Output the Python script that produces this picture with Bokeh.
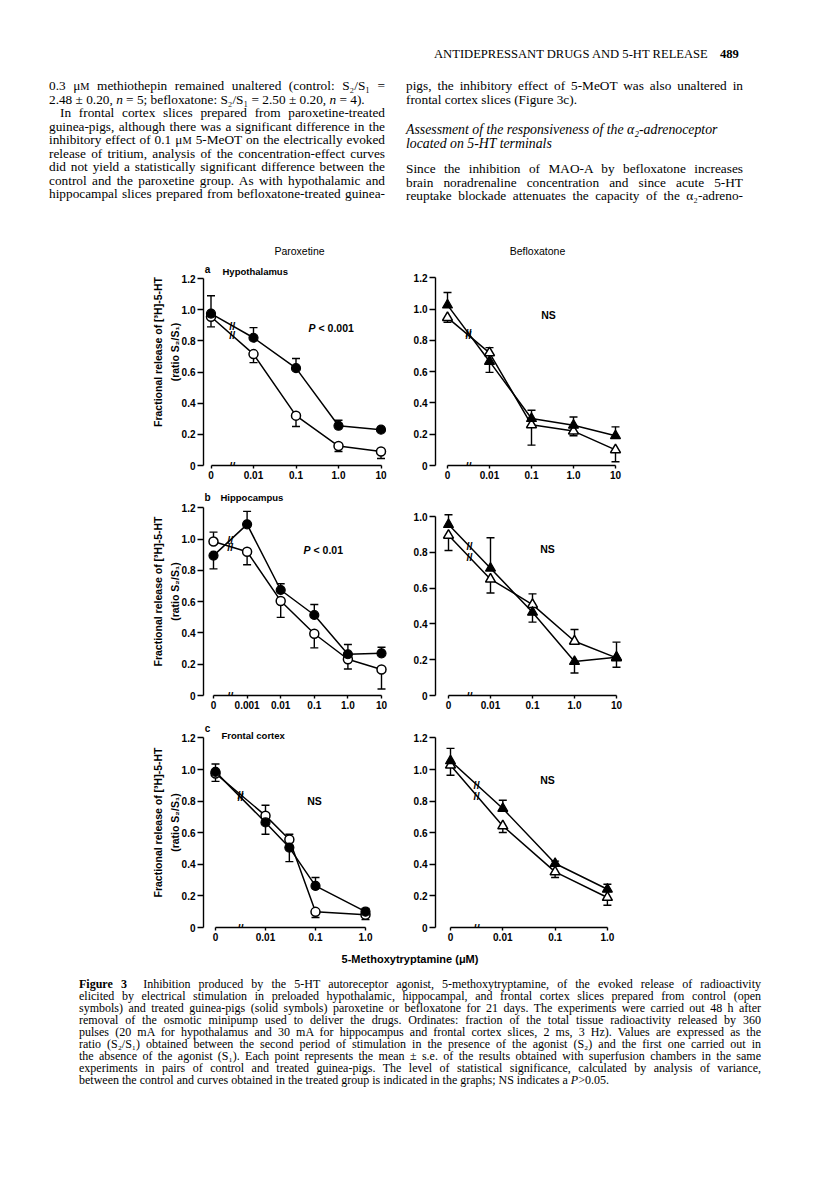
import math
from bokeh.plotting import figure
from bokeh.models import Range1d, FixedTicker, Label, Div
from bokeh.layouts import column, row
from bokeh.core.properties import value
from bokeh.embed import file_html
from bokeh.resources import INLINE

SANS = "Liberation Sans"
SERIF = "Liberation Serif"

# ------------------------------------------------------------------ data
# concentrations of 5-methoxytryptamine (uM) and x tick labels
hyp_conc = [0, 0.01, 0.1, 1.0, 10]
hyp_tick_conc = [0, 0.01, 0.1, 1.0, 10]
hyp_tick_labels = ["0", "0.01", "0.1", "1.0", "10"]

hip_par_conc = [0, 0.001, 0.01, 0.1, 1.0, 10]
hip_par_tick_conc = [0, 0.001, 0.01, 0.1, 1.0, 10]
hip_par_tick_labels = ["0", "0.001", "0.01", "0.1", "1.0", "10"]

hip_bef_conc = [0, 0.01, 0.1, 1.0, 10]
hip_bef_tick_conc = [0, 0.01, 0.1, 1.0, 10]
hip_bef_tick_labels = ["0", "0.01", "0.1", "1.0", "10"]

fc_par_conc = [0, 0.01, 0.03, 0.1, 1.0]
fc_bef_conc = [0, 0.01, 0.1, 1.0]
fc_tick_conc = [0, 0.01, 0.1, 1.0]
fc_tick_labels = ["0", "0.01", "0.1", "1.0"]

y_ticks_12 = [0, 0.2, 0.4, 0.6, 0.8, 1.0, 1.2]
y_labels_12 = ["0", "0.2", "0.4", "0.6", "0.8", "1.0", "1.2"]
y_ticks_10 = [0, 0.2, 0.4, 0.6, 0.8, 1.0]
y_labels_10 = ["0", "0.2", "0.4", "0.6", "0.8", "1.0"]

# mean S2/S1 values; signed s.e. (sign = side on which the visible bar is drawn)
hyp_par_ctrl = [0.955, 0.715, 0.32, 0.125, 0.09]
hyp_par_ctrl_se = [-0.065, -0.055, -0.07, -0.035, -0.045]
hyp_par_trt = [0.975, 0.82, 0.625, 0.255, 0.23]
hyp_par_trt_se = [0.115, 0.065, 0.062, 0.035, 0.015]

hyp_bef_ctrl = [0.945, 0.72, 0.26, 0.22, 0.10]
hyp_bef_ctrl_se = [-0.03, 0.033, -0.13, -0.03, -0.076]
hyp_bef_trt = [1.025, 0.665, 0.30, 0.257, 0.19]
hyp_bef_trt_se = [0.08, -0.07, 0.053, 0.053, 0.057]

hip_par_ctrl = [0.985, 0.92, 0.605, 0.395, 0.232, 0.166]
hip_par_ctrl_se = [0.06, -0.083, -0.105, -0.09, -0.062, -0.124]
hip_par_trt = [0.895, 1.095, 0.675, 0.515, 0.264, 0.27]
hip_par_trt_se = [-0.085, 0.083, 0.04, 0.067, 0.062, 0.039]

hip_bef_ctrl = [0.895, 0.65, 0.508, 0.303, 0.21]
hip_bef_ctrl_se = [-0.085, -0.077, 0.06, 0.066, -0.052]
hip_bef_trt = [0.955, 0.711, 0.465, 0.19, 0.214]
hip_bef_trt_se = [0.055, 0.17, -0.055, -0.064, 0.084]

fc_par_ctrl = [0.975, 0.708, 0.557, 0.099, 0.08]
fc_par_ctrl_se = [-0.05, 0.066, 0.033, -0.036, -0.03]
fc_par_trt = [0.985, 0.665, 0.506, 0.263, 0.10]
fc_par_trt_se = [0.05, -0.075, -0.089, 0.053, 0.02]

fc_bef_ctrl = [1.027, 0.643, 0.352, 0.19]
fc_bef_ctrl_se = [-0.063, -0.042, -0.036, -0.049]
fc_bef_trt = [1.055, 0.753, 0.405, 0.242]
fc_bef_trt_se = [0.079, 0.052, 0.015, 0.032]

# ------------------------------------------------------------------ layout (window px)
LEFT_FIG, RIGHT_FIG = (8, 404), (404, 808)
LEFT_FRAME, RIGHT_FRAME = (211, 400), (443, 640)
ROW_A, ROW_B, ROW_C = (236, 485), (485, 715), (715, 945)

YLABEL = "Fractional release of [\u00b3H]-5-HT\n(ratio S\u2082/S\u2081)"


def make_panel(fig_x, frame_x, rows, pos0, decade, y0, unit,
               conc, tick_conc, tick_labels, yticks, ylabels,
               ctrl, ctrl_se, trt, trt_se, marker, texts, ylabel=None):
    first = min(c for c in conc if c > 0)
    zero_x = math.log10(first) - 1

    def xp(c):
        return math.log10(c) if c > 0 else zero_x

    fl, fr = frame_x
    x0 = zero_x - (pos0 - fl) / decade
    x1 = x0 + (fr - fl) / decade
    top, bottom = rows
    y1 = (y0 - top) / unit

    p = figure(width=fig_x[1] - fig_x[0], height=bottom - top,
               x_range=Range1d(x0, x1), y_range=Range1d(0, y1),
               output_backend="svg", toolbar_location=None,
               min_border_left=fl - fig_x[0], min_border_right=fig_x[1] - fr,
               min_border_top=0, min_border_bottom=bottom - y0)
    p.outline_line_color = None
    p.grid.visible = False
    p.background_fill_color = "white"
    p.border_fill_color = "white"

    xs = [xp(c) for c in conc]
    xax = p.xaxis[0]
    xax.ticker = FixedTicker(ticks=[xp(c) for c in tick_conc])
    xax.major_label_overrides = {xp(c): lab for c, lab in zip(tick_conc, tick_labels)}
    xax.bounds = (xp(tick_conc[0]), xp(tick_conc[-1]))
    xax.major_tick_out = 3
    xax.major_tick_in = 0
    xax.minor_tick_line_color = None
    xax.major_label_standoff = 2

    yax = p.yaxis[0]
    yax.ticker = FixedTicker(ticks=yticks)
    yax.major_label_overrides = {t: lab for t, lab in zip(yticks, ylabels)}
    yax.bounds = (yticks[0], yticks[-1])
    yax.major_tick_out = 6
    yax.major_tick_in = 0
    yax.minor_tick_line_color = None
    yax.major_label_standoff = 2

    for ax in (xax, yax):
        ax.axis_line_width = 1.4
        ax.axis_line_color = "black"
        ax.major_tick_line_width = 1.4
        ax.major_tick_line_color = "black"
        ax.major_label_text_font = SANS
        ax.major_label_text_font_size = "10px"
        ax.major_label_text_font_style = "bold"
        ax.major_label_text_color = "black"

    if ylabel:
        yax.axis_label = ylabel
        yax.axis_label_text_font = SANS
        yax.axis_label_text_font_size = "10.5px"
        yax.axis_label_text_font_style = "bold"
        yax.axis_label_text_color = "black"
        yax.axis_label_standoff = -2
        yax.axis_label_text_line_height = 1.4

    # error bars (stem + cap)
    for ys, se in ((ctrl, ctrl_se), (trt, trt_se)):
        ends = [y + e for y, e in zip(ys, se)]
        p.segment(x0=xs, y0=ys, x1=xs, y1=ends, line_color="black", line_width=1.4)
        p.scatter(x=xs, y=ends, marker="dash", size=8, line_color="black", line_width=1.4)

    # curves
    for ys in (ctrl, trt):
        p.line(xs, ys, line_color="black", line_width=1.5)

    msize = 10 if marker == "triangle" else 9
    p.scatter(x=xs, y=ctrl, marker=marker, size=msize, fill_color="white",
              line_color="black", line_width=1.5)
    p.scatter(x=xs, y=trt, marker=marker, size=msize, fill_color="black",
              line_color="black", line_width=1.2)

    # axis breaks on the curves (middle of the first segment)
    bx, by = [], []
    for ys in (ctrl, trt):
        bx.append((xs[0] + xs[1]) / 2)
        by.append((ys[0] + ys[1]) / 2)
    p.text(x=bx, y=by, text=["//"] * len(bx), text_font=value(SANS),
           text_font_size="11px", text_font_style="bold", text_align="center",
           text_baseline="middle", text_color="black")
    # axis break on the x axis
    p.text(x=[(xs[0] + xs[1]) / 2], y=[0], text=["//"], text_font=value(SANS),
           text_font_size="11px", text_font_style="bold", text_align="center",
           text_baseline="middle", text_color="black")

    # annotations given in window pixels
    for t, px, py, align, size, style in texts:
        p.add_layout(Label(x=x0 + (px - fl) / decade, y=(y0 - py) / unit, text=t,
                           text_font=SANS, text_font_size=size,
                           text_font_style=style, text_align=align,
                           text_baseline="middle", text_color="black"))
    return p


pa = make_panel(LEFT_FIG, LEFT_FRAME, ROW_A, 218.5, 42.5, 463, 155.8,
                hyp_conc, hyp_tick_conc, hyp_tick_labels, y_ticks_12, y_labels_12,
                hyp_par_ctrl, hyp_par_ctrl_se, hyp_par_trt, hyp_par_trt_se, "circle",
                [("Paroxetine", 307, 248, "center", "10.5px", "normal"),
                 ("a", 215, 267, "center", "10px", "bold"),
                 ("Hypothalamus", 230, 269, "left", "9.5px", "bold"),
                 ("P", 316, 325, "left", "10.5px", "bold italic"),
                 ("< 0.001", 326, 325, "left", "10.5px", "bold")],
                ylabel=YLABEL)
pa2 = make_panel(RIGHT_FIG, RIGHT_FRAME, ROW_A, 455, 42, 463, 156.5,
                 hyp_conc, hyp_tick_conc, hyp_tick_labels, y_ticks_12, y_labels_12,
                 hyp_bef_ctrl, hyp_bef_ctrl_se, hyp_bef_trt, hyp_bef_trt_se, "triangle",
                 [("Befloxatone", 545, 248, "center", "10.5px", "normal"),
                  ("NS", 556, 312, "center", "10.5px", "bold")])

pb = make_panel(LEFT_FIG, LEFT_FRAME, ROW_B, 221, 33.6, 693, 156.3,
                hip_par_conc, hip_par_tick_conc, hip_par_tick_labels, y_ticks_12, y_labels_12,
                hip_par_ctrl, hip_par_ctrl_se, hip_par_trt, hip_par_trt_se, "circle",
                [("b", 215, 495, "center", "10px", "bold"),
                 ("Hippocampus", 228, 495, "left", "9.5px", "bold"),
                 ("P", 311, 547, "left", "10.5px", "bold italic"),
                 ("< 0.01", 321, 547, "left", "10.5px", "bold")],
                ylabel=YLABEL)
pb2 = make_panel(RIGHT_FIG, RIGHT_FRAME, ROW_B, 456, 42, 693, 179,
                 hip_bef_conc, hip_bef_tick_conc, hip_bef_tick_labels, y_ticks_10, y_labels_10,
                 hip_bef_ctrl, hip_bef_ctrl_se, hip_bef_trt, hip_bef_trt_se, "triangle",
                 [("NS", 555, 546, "center", "10.5px", "bold")])

pc = make_panel(LEFT_FIG, LEFT_FRAME, ROW_C, 223, 50, 925, 158,
                fc_par_conc, fc_tick_conc, fc_tick_labels, y_ticks_12, y_labels_12,
                fc_par_ctrl, fc_par_ctrl_se, fc_par_trt, fc_par_trt_se, "circle",
                [("c", 215, 726, "center", "10px", "bold"),
                 ("Frontal cortex", 229, 733, "left", "9.5px", "bold"),
                 ("NS", 322, 798, "center", "10.5px", "bold")],
                ylabel=YLABEL)
pc2 = make_panel(RIGHT_FIG, RIGHT_FRAME, ROW_C, 458, 52.3, 925, 158,
                 fc_bef_conc, fc_tick_conc, fc_tick_labels, y_ticks_12, y_labels_12,
                 fc_bef_ctrl, fc_bef_ctrl_se, fc_bef_trt, fc_bef_trt_se, "triangle",
                 [("NS", 555, 777, "center", "10.5px", "bold")])

# ------------------------------------------------------------------ page text
uM = '\u03bc<span style="font-size:78%">M</span>'
S21 = "S\u2082/S\u2081"


def line(text, left, top, width, size=13.3, align="justify", style="normal",
         weight="normal", family=SERIF, lh=13.5, extra=""):
    return ('<div style="position:absolute;left:%spx;top:%spx;width:%spx;height:%spx;'
            'line-height:%spx;font-family:\'%s\';font-size:%spx;font-style:%s;'
            'font-weight:%s;text-align:%s;text-align-last:%s;white-space:nowrap;'
            'overflow:visible;color:#000;%s">%s</div>'
            % (left, top, width, lh, lh, family, size, style, weight, align, align,
               extra, text))


left_col = [
    ("0.3 " + uM + " methiothepin remained unaltered (control: " + S21 + " =", "justify", 0),
    ("2.48 \u00b1 0.20, <i>n</i> = 5; befloxatone: " + S21 + " = 2.50 \u00b1 0.20, <i>n</i> = 4).", "left", 0),
    ("In frontal cortex slices prepared from paroxetine-treated", "justify", 11),
    ("guinea-pigs, although there was a significant difference in the", "justify", 0),
    ("inhibitory effect of 0.1 " + uM + " 5-MeOT on the electrically evoked", "justify", 0),
    ("release of tritium, analysis of the concentration-effect curves", "justify", 0),
    ("did not yield a statistically significant difference between the", "justify", 0),
    ("control and the paroxetine group. As with hypothalamic and", "justify", 0),
    ("hippocampal slices prepared from befloxatone-treated guinea-", "justify", 0),
]
right_col = [
    ("pigs, the inhibitory effect of 5-MeOT was also unaltered in", "justify", "normal", 89),
    ("frontal cortex slices (Figure 3c).", "left", "normal", 103),
    ("Assessment of the responsiveness of the \u03b1\u2082-adrenoceptor", "left", "italic", 133),
    ("located on 5-HT terminals", "left", "italic", 147),
    ("Since the inhibition of MAO-A by befloxatone increases", "justify", "normal", 172),
    ("brain noradrenaline concentration and since acute 5-HT", "justify", "normal", 185.5),
    ("reuptake blockade attenuates the capacity of the \u03b1\u2082-adreno-", "justify", "normal", 199),
]

OX, OY = 8, 8
parts = []
parts.append(line("ANTIDEPRESSANT DRUGS AND 5-HT RELEASE", 437 - OX, 58 - 7 - OY, 280,
                  size=12.6, align="left"))
parts.append(line("489", 723 - OX, 58 - 7 - OY, 30, size=12.6, align="left", weight="bold"))
for i, (t, al, ind) in enumerate(left_col):
    cy = 89 + 13.5 * i
    parts.append(line(t, 52 - OX + ind, cy - 6.75 - OY, 336 - ind, align=al))
for t, al, st, cy in right_col:
    sz = 13.8 if st == "italic" else 13.3
    parts.append(line(t, 409 - OX, cy - 6.75 - OY, 337, size=sz, align=al, style=st))

top_div = Div(text='<div style="position:relative;width:800px;height:228px;">'
              + "".join(parts) + "</div>", width=800, height=228)

caption = [
    ('<b>Figure 3</b>&nbsp; Inhibition produced by the 5-HT autoreceptor agonist, 5-methoxytryptamine, of the evoked release of radioactivity', "justify"),
    ("elicited by electrical stimulation in preloaded hypothalamic, hippocampal, and frontal cortex slices prepared from control (open", "justify"),
    ("symbols) and treated guinea-pigs (solid symbols) paroxetine or befloxatone for 21 days. The experiments were carried out 48 h after", "justify"),
    ("removal of the osmotic minipump used to deliver the drugs. Ordinates: fraction of the total tissue radioactivity released by 360", "justify"),
    ("pulses (20 mA for hypothalamus and 30 mA for hippocampus and frontal cortex slices, 2 ms, 3 Hz). Values are expressed as the", "justify"),
    ("ratio (" + S21 + ") obtained between the second period of stimulation in the presence of the agonist (S\u2082) and the first one carried out in", "justify"),
    ("the absence of the agonist (S\u2081). Each point represents the mean \u00b1 s.e. of the results obtained with superfusion chambers in the same", "justify"),
    ("experiments in pairs of control and treated guinea-pigs. The level of statistical significance, calculated by analysis of variance,", "justify"),
    ("between the control and curves obtained in the treated group is indicated in the graphs; NS indicates a <i>P</i>&gt;0.05.", "left"),
]

BOT_Y = 945
bparts = []
bparts.append(line("5-Methoxytryptamine (" + "\u03bcM" + ")", 413 - 100 - OX, 952 - 7 - BOT_Y, 200,
                   size=11, align="center", weight="bold", family=SANS, lh=14))
for i, (t, al) in enumerate(caption):
    cy = 977 + 12 * i
    bparts.append(line(t, 82 - OX, cy - 6 - BOT_Y, 682, size=12, align=al, lh=12))

bottom_div = Div(text='<div style="position:relative;width:800px;height:229px;">'
                 + "".join(bparts) + "</div>", width=800, height=229)

layout = column(top_div, row(pa, pa2), row(pb, pb2), row(pc, pc2), bottom_div)

open("out.html", "w").write(file_html(layout, INLINE))
